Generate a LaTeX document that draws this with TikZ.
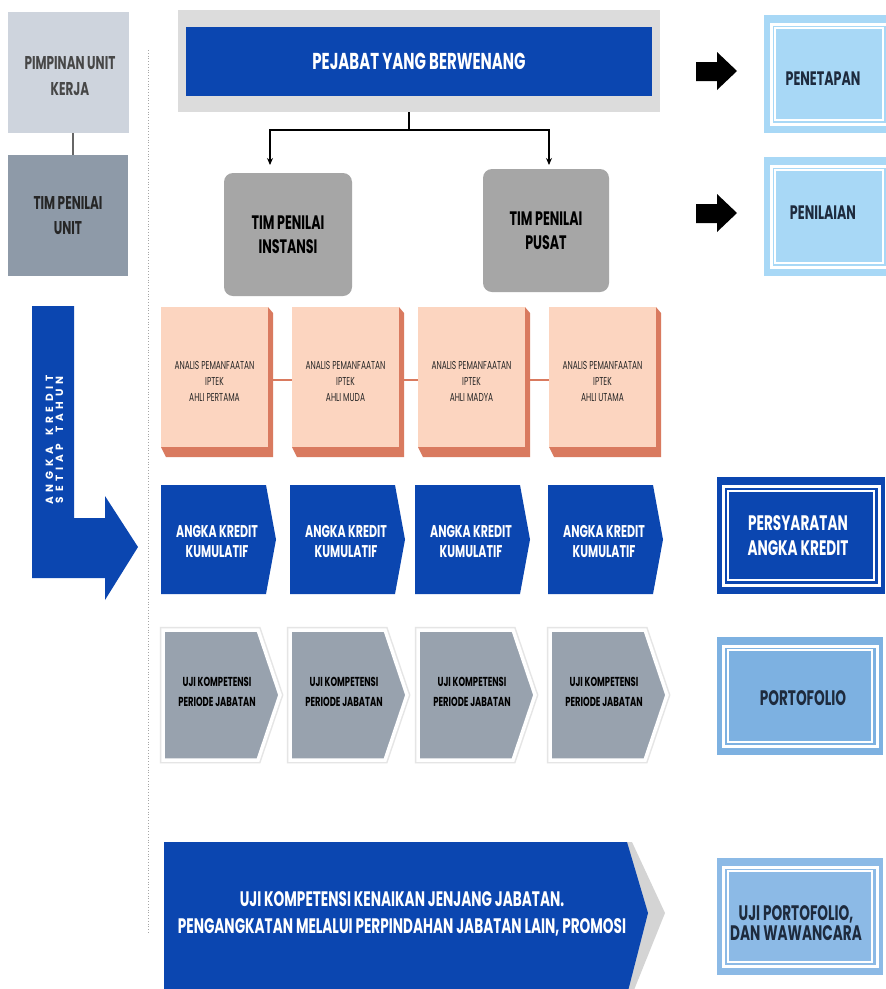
\documentclass[tikz,border=0pt]{standalone}
\usepackage{fontspec}
\setmainfont{Poppins}[FakeStretch=0.65]
\newfontfamily\vfont{Poppins}[LetterSpace=45]
\usetikzlibrary{arrows.meta}
\definecolor{dblue}{HTML}{0B46B0}
\definecolor{pimp}{HTML}{CED4DD}
\definecolor{unitc}{HTML}{8E9AA8}
\definecolor{frameg}{HTML}{DCDCDC}
\definecolor{timg}{HTML}{A6A6A6}
\definecolor{peach}{HTML}{FCD5C0}
\definecolor{salmon}{HTML}{D97A5F}
\definecolor{chevg}{HTML}{98A2AE}
\definecolor{lblue}{HTML}{A8D8F6}
\definecolor{mblue}{HTML}{7DB1E1}
\definecolor{ublue}{HTML}{8CBAE6}
\definecolor{shadowg}{HTML}{D4D4D4}
\definecolor{darktxt}{HTML}{1E2B3E}
\tikzset{
  box/.style={inner sep=0pt, outer sep=0pt, align=center},
  txt/.style={inner sep=0pt, align=center},
  conn/.style={line width=1.6pt, black},
  whiteline/.style={white, line width=3pt},
  thinwhite/.style={white, line width=1.2pt},
}
\begin{document}
\begin{tikzpicture}[x=1pt,y=-1pt]
\useasboundingbox[fill=white] (0,0) rectangle (886,989);

% dotted separator
\draw[black!35, line width=0.8pt, dotted] (148,50) -- (148,933);

% left column
\node[box, fill=pimp, minimum width=121pt, minimum height=121pt] (pimpinan) at (68.5,72.5) {};
\node[txt, font=\bfseries\fontsize{18.5}{26}\selectfont, text=black!72] at (70,76) {PIMPINAN UNIT\\KERJA};
\node[box, fill=unitc, minimum width=120pt, minimum height=121pt,
      font=\bfseries\fontsize{18.5}{25}\selectfont, text=black!85] (timunit) at (68,215.5) {TIM PENILAI\\UNIT};
\draw[black!60, line width=2pt] ([xshift=4pt]pimpinan.south) -- ([xshift=4pt]pimpinan.south |- timunit.north);

% L arrow
\fill[dblue] (32,306) -- (74,306) -- (74,518) -- (105,518) -- (105,496) -- (138,547)
  -- (105,600) -- (105,578) -- (32,578) -- cycle;
\node[txt, rotate=90, text=white, font=\vfont\bfseries\fontsize{10.5}{10}\selectfont] (vtext) at (54.5,440) {ANGKA\hspace{11pt}KREDIT\\SETIAP\hspace{11pt}TAHUN};

% top frame
\node[box, fill=frameg, minimum width=482pt, minimum height=102pt] (frame) at (419,61) {};
\node[box, fill=dblue, minimum width=466pt, minimum height=69pt, text=white,
      font=\bfseries\fontsize{23}{26}\selectfont] (pejabat) at (419,61.5) {PEJABAT YANG BERWENANG};

% TIM boxes
\node[box, fill=timg, rounded corners=9pt, minimum width=128pt, minimum height=123pt,
      font=\bfseries\fontsize{19.5}{24}\selectfont, text=black] (instansi) at (288,234.5) {TIM PENILAI\\INSTANSI};
\node[box, fill=timg, rounded corners=9pt, minimum width=126pt, minimum height=123pt,
      font=\bfseries\fontsize{19.5}{24}\selectfont, text=black] (pusat) at (546,230.5) {TIM PENILAI\\PUSAT};

\draw[conn] ([xshift=-10pt]frame.south) -- ++(0,18) coordinate (jn);
\coordinate (ia) at (270,165);
\coordinate (pa) at (549,165);
\draw[conn, -{Stealth[length=7pt,width=6pt]}] (jn) -| (ia);
\draw[conn, -{Stealth[length=7pt,width=6pt]}] (jn) -| (pa);

% black block arrows
\fill[black] (696,62) -- (717,62) -- (717,52) -- (737,71) -- (717,90) -- (717,81) -- (696,81) -- cycle;
\fill[black] (696,204) -- (717,204) -- (717,194) -- (737,213) -- (717,232) -- (717,223) -- (696,223) -- cycle;

% PENETAPAN / PENILAIAN
\node[box, fill=lblue, minimum width=130pt, minimum height=118pt] (penetapan) at (829,74) {};
\draw[whiteline] ([shift={(7pt,-9pt)}]penetapan.north west) rectangle ([shift={(-7pt,9pt)}]penetapan.south east);
\draw[thinwhite] ([shift={(11pt,-13pt)}]penetapan.north west) rectangle ([shift={(-11pt,13pt)}]penetapan.south east);
\node[txt, font=\bfseries\fontsize{19.5}{22}\selectfont, text=darktxt] at (823,79) {PENETAPAN};

\node[box, fill=lblue, minimum width=130pt, minimum height=119pt] (penilaian) at (829,216.5) {};
\draw[whiteline] ([shift={(7pt,-9pt)}]penilaian.north west) rectangle ([shift={(-7pt,9pt)}]penilaian.south east);
\draw[thinwhite] ([shift={(11pt,-13pt)}]penilaian.north west) rectangle ([shift={(-11pt,13pt)}]penilaian.south east);
\node[txt, font=\bfseries\fontsize{19.5}{22}\selectfont, text=darktxt] at (823,213) {PENILAIAN};

% peach boxes
\foreach \x/\lvl [count=\i] in {161/PERTAMA,292/MUDA,418/MADYA,549/UTAMA}{
  \fill[salmon] (\x+107,307) -- (\x+112,313) -- (\x+112,457) -- (\x+5,457) -- (\x,447) -- (\x+107,447) -- cycle;
  \node[box, fill=peach, minimum width=107pt, minimum height=140pt, anchor=north west] (an\i) at (\x,307) {};
  \node[txt, font=\fontsize{11.5}{16}\selectfont, text=black!85] at (\x+53.5,381) {ANALIS PEMANFAATAN\\IPTEK\\AHLI \lvl};
}
\draw[salmon, line width=1.2pt] ([xshift=5pt,yshift=-3pt]an1.east) -- ([yshift=-3pt]an2.west);
\draw[salmon, line width=1.2pt] ([xshift=5pt,yshift=-3pt]an2.east) -- ([yshift=-3pt]an3.west);
\draw[salmon, line width=1.2pt] ([xshift=5pt,yshift=-3pt]an3.east) -- ([yshift=-3pt]an4.west);

% blue chevrons
\foreach \x [count=\i] in {161,290,415,548}{
  \fill[dblue] (\x,485) -- (\x+105,485) -- (\x+115,539.5) -- (\x+105,594) -- (\x,594) -- cycle;
  \node[txt, text=white, font=\bfseries\fontsize{17}{20}\selectfont] (ak\i) at (\x+56,542) {ANGKA KREDIT\\KUMULATIF};
}

% PERSYARATAN
\node[box, fill=dblue, minimum width=168pt, minimum height=117pt] (persyaratan) at (801,535.5) {};
\draw[whiteline] ([shift={(6pt,-9pt)}]persyaratan.north west) rectangle ([shift={(-6pt,9pt)}]persyaratan.south east);
\draw[thinwhite] ([shift={(11pt,-14pt)}]persyaratan.north west) rectangle ([shift={(-11pt,14pt)}]persyaratan.south east);
\node[txt, text=white, font=\bfseries\fontsize{21}{25}\selectfont] at (798,536) {PERSYARATAN\\ANGKA KREDIT};

% gray chevrons
\foreach \x [count=\i] in {163,290,418,550}{
  \path[fill=chevg, draw=white, line width=3.5pt, preaction={draw=black!10, line width=6.5pt}]
    (\x,630) -- (\x+95,630) -- (\x+117,695) -- (\x+95,760) -- (\x,760) -- cycle;
  \node[txt, text=black, font=\bfseries\fontsize{13}{20}\selectfont] (uk\i) at (\x+54,692) {UJI KOMPETENSI\\PERIODE JABATAN};
}

% PORTOFOLIO
\node[box, fill=mblue, minimum width=166pt, minimum height=118pt] (porto) at (800,696) {};
\draw[whiteline] ([shift={(6pt,-9pt)}]porto.north west) rectangle ([shift={(-6pt,9pt)}]porto.south east);
\draw[thinwhite] ([shift={(11pt,-13pt)}]porto.north west) rectangle ([shift={(-11pt,13pt)}]porto.south east);
\node[txt, text=darktxt, font=\bfseries\fontsize{21}{22}\selectfont] at (803,698) {PORTOFOLIO};

% bottom big arrow
\fill[shadowg] (170,842) -- (632,842) -- (665,913) -- (632,995) -- (170,995) -- cycle;
\fill[dblue] (164,842) -- (627,842) -- (648,913) -- (627,995) -- (164,995) -- cycle;
\node[txt, text=white, font=\bfseries\fontsize{21}{27}\selectfont] (bottomtxt) at (402,913.5)
  {UJI KOMPETENSI KENAIKAN JENJANG JABATAN.\\PENGANGKATAN MELALUI PERPINDAHAN JABATAN LAIN, PROMOSI};

% UJI PORTOFOLIO
\node[box, fill=ublue, minimum width=166pt, minimum height=117pt] (ujiporto) at (800,916.5) {};
\draw[whiteline] ([shift={(6pt,-9pt)}]ujiporto.north west) rectangle ([shift={(-6pt,9pt)}]ujiporto.south east);
\draw[thinwhite] ([shift={(11pt,-13pt)}]ujiporto.north west) rectangle ([shift={(-11pt,13pt)}]ujiporto.south east);
\node[txt, text=darktxt, font=\bfseries\fontsize{21}{20}\selectfont] at (796,923) {UJI PORTOFOLIO,\\DAN WAWANCARA};
\end{tikzpicture}
\end{document}
